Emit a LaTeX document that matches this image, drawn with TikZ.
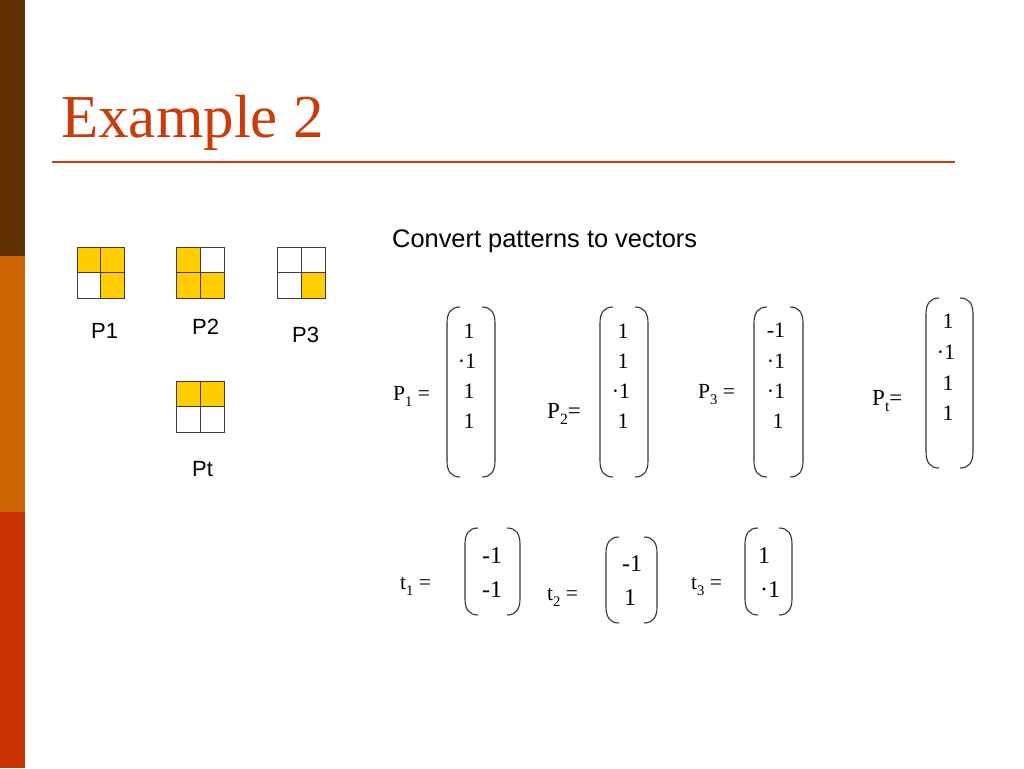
\documentclass[tikz,border=0pt]{standalone}
\usepackage{fontspec}
\setmainfont{Liberation Serif}
\newfontfamily\sansf{Liberation Sans}
\definecolor{barbrown}{RGB}{96,50,0}
\definecolor{barorange}{RGB}{204,102,0}
\definecolor{barred}{RGB}{204,51,0}
\definecolor{titlered}{RGB}{204,60,10}
\definecolor{gold}{RGB}{255,204,0}
\definecolor{gridgray}{RGB}{60,60,60}
\newcommand\mybrk[4]{%
  \draw[brk] (#1+13,#3) .. controls (#1+4,#3) and (#1,#3+6) .. (#1,#3+16) -- (#1,#4-16) .. controls (#1,#4-6) and (#1+4,#4) .. (#1+13,#4);
  \draw[brk] (#2-13,#3) .. controls (#2-4,#3) and (#2,#3+6) .. (#2,#3+16) -- (#2,#4-16) .. controls (#2,#4-6) and (#2-4,#4) .. (#2-13,#4);
}
\newcommand\mysub[1]{\raisebox{-0.28em}{\scalebox{0.68}{#1}}}
\begin{document}
\begin{tikzpicture}[x=1pt,y=-1pt,
  brk/.style={draw=black!80,line width=1.1pt},
  cell/.style={draw=gridgray,line width=0.9pt},
  lbl/.style={anchor=base west,inner sep=0pt,font=\sansf\fontsize{22}{26}\selectfont},
  eq/.style={anchor=base west,inner sep=0pt,font=\fontsize{21.5}{26}\selectfont},
  eqb/.style={anchor=base west,inner sep=0pt,font=\fontsize{23}{27}\selectfont},
  ent/.style={anchor=base,inner sep=0pt,font=\fontsize{22}{26}\selectfont},
  entb/.style={anchor=base,inner sep=0pt,font=\fontsize{24}{28}\selectfont}]
\useasboundingbox (0,0) rectangle (1024,768);
\fill[white] (0,0) rectangle (1024,768);
% side bar
\fill[barbrown] (0,0) rectangle (25,256);
\fill[barorange] (0,256) rectangle (25,512);
\fill[barred] (0,512) rectangle (25,768);
% title
\node[anchor=base west,inner sep=0pt,text=titlered,font=\fontsize{61}{70}\selectfont] (title) at (61,137) {Example 2};
\draw[titlered,line width=2pt] (52,162) -- (955,162);
% grids
% P1
\fill[gold] (77,247) rectangle (124,272.5);
\fill[gold] (100.5,272.5) rectangle (124,298);
\draw[cell] (77,247) rectangle (124,298) (100.5,247) -- (100.5,298) (77,272.5) -- (124,272.5);
% P2
\fill[gold] (176,247) rectangle (200,298);
\fill[gold] (200,272.5) rectangle (224,298);
\draw[cell] (176,247) rectangle (224,298) (200,247) -- (200,298) (176,272.5) -- (224,272.5);
% P3
\fill[gold] (301,272.5) rectangle (325,298);
\draw[cell] (277,247) rectangle (325,298) (301,247) -- (301,298) (277,272.5) -- (325,272.5);
% Pt
\fill[gold] (176,381) rectangle (224,406.5);
\draw[cell] (176,381) rectangle (224,432) (200,381) -- (200,432) (176,406.5) -- (224,406.5);
% labels
\node[lbl] (l1) at (91,338) {P1};
\node[lbl] (l2) at (192,334) {P2};
\node[lbl] (l3) at (292,342) {P3};
\node[lbl] (lt) at (192,476) {Pt};
\node[anchor=base west,inner sep=0pt,font=\sansf\fontsize{25.4}{30}\selectfont] (conv) at (392,247) {Convert patterns to vectors};
% P1 vector
\node[eq] (p1lab) at (393,400) {P\mysub{1} =};
\mybrk{447}{495}{307}{477}
\node[ent] (p1a) at (469,338) {1};
\node[ent] (p1b) at (467,368) {·1};
\node[ent] (p1c) at (469,398) {1};
\node[ent] (p1d) at (469,428) {1};
% P2 vector
\node[eqb] (p2lab) at (547,418) {P\mysub{2}=};
\mybrk{600}{648}{307}{477}
\node[ent] (p2a) at (623,338) {1};
\node[ent] (p2b) at (623,368) {1};
\node[ent] (p2c) at (621,398) {·1};
\node[ent] (p2d) at (623,428) {1};
% P3 vector
\node[eq] (p3lab) at (698,398) {P\mysub{3} =};
\mybrk{754}{803}{307}{477}
\node[ent] (p3a) at (776,337) {-1};
\node[ent] (p3b) at (776,368) {·1};
\node[ent] (p3c) at (776,398) {·1};
\node[ent] (p3d) at (778,428) {1};
% Pt vector
\node[eqb] (ptlab) at (872,405) {P\mysub{t}=};
\mybrk{926}{973}{298}{468}
\node[ent] (pta) at (948,328) {1};
\node[ent] (ptb) at (946,359) {·1};
\node[ent] (ptc) at (948,390) {1};
\node[ent] (ptd) at (948,420) {1};
% t1
\node[eq] (t1lab) at (400,589) {t\mysub{1} =};
\mybrk{465}{520}{528}{615}
\node[entb] (t1a) at (492,563) {-1};
\node[entb] (t1b) at (492,597) {-1};
% t2
\node[eq] (t2lab) at (547,600) {t\mysub{2} =};
\mybrk{606}{657}{537}{623}
\node[entb] (t2a) at (632,571) {-1};
\node[entb] (t2b) at (630,605) {1};
% t3
\node[eq] (t3lab) at (691,589) {t\mysub{3} =};
\mybrk{745}{792}{528}{615}
\node[entb] (t3a) at (764,563) {1};
\node[entb] (t3b) at (770,597) {·1};
\end{tikzpicture}
\end{document}
